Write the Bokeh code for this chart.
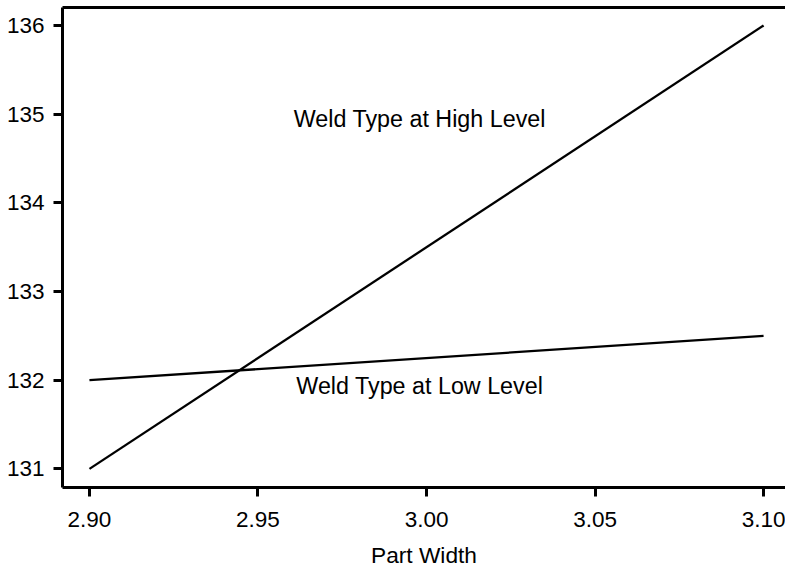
from bokeh.plotting import figure
from bokeh.models import ColumnDataSource, LinearAxis, FixedTicker, Range1d
from bokeh.core.properties import value
from bokeh.embed import file_html
from bokeh.resources import INLINE

# Interaction plot: response vs part width for the two weld-type levels
part_width = [2.90, 3.10]
high_level = [131.0, 136.0]
low_level = [132.0, 132.5]

x_ticks = [2.90, 2.95, 3.00, 3.05, 3.10]
x_tick_labels = ["2.90", "2.95", "3.00", "3.05", "3.10"]
y_ticks = [131, 132, 133, 134, 135, 136]

label_text = ["Weld Type at High Level", "Weld Type at Low Level"]
label_x = [2.998, 2.998]
label_y = [134.95, 131.94]

FONT = "Liberation Sans"

p = figure(
    width=785, height=570,
    x_range=Range1d(2.892, 3.1065),
    y_range=Range1d(130.79, 136.203),
    output_backend="svg", toolbar_location=None,
    min_border_left=62, min_border_right=0, min_border_top=7, min_border_bottom=82,
    x_axis_label="Part Width",
)
p.outline_line_color = None
p.grid.visible = False
p.background_fill_color = "white"
p.border_fill_color = "white"

for ax in (p.xaxis[0], p.yaxis[0]):
    ax.axis_line_width = 3
    ax.axis_line_color = "black"
    ax.major_tick_line_width = 3
    ax.major_tick_line_color = "black"
    ax.major_tick_out = 9
    ax.major_tick_in = 0
    ax.minor_tick_line_color = None
    ax.major_label_text_font = FONT
    ax.major_label_text_font_size = "22.5px"
    ax.major_label_text_color = "black"

p.xaxis.ticker = FixedTicker(ticks=x_ticks)
p.xaxis.major_label_overrides = {t: s for t, s in zip(x_ticks, x_tick_labels)}
p.xaxis.major_label_standoff = 15
p.xaxis.axis_label_text_font = FONT
p.xaxis.axis_label_text_font_size = "22.7px"
p.xaxis.axis_label_text_font_style = "normal"
p.xaxis.axis_label_text_color = "black"
p.xaxis.axis_label_standoff = 12

p.yaxis.ticker = FixedTicker(ticks=y_ticks)
p.yaxis.major_label_standoff = 9

# top border of the plotting area
top = LinearAxis(ticker=FixedTicker(ticks=[]), axis_line_width=3,
                 axis_line_color="black", major_tick_line_color=None,
                 minor_tick_line_color=None)
p.add_layout(top, "above")

src = ColumnDataSource(dict(x=part_width, high=high_level, low=low_level))
p.line("x", "high", source=src, line_color="black", line_width=2.3)
p.line("x", "low", source=src, line_color="black", line_width=2.3)

lbl = ColumnDataSource(dict(x=label_x, y=label_y, t=label_text))
p.text("x", "y", text="t", source=lbl, text_align="center",
       text_baseline="middle", text_font=value(FONT),
       text_font_size="23.3px", text_color="black")

open("out.html", "w").write(file_html(p, INLINE))
